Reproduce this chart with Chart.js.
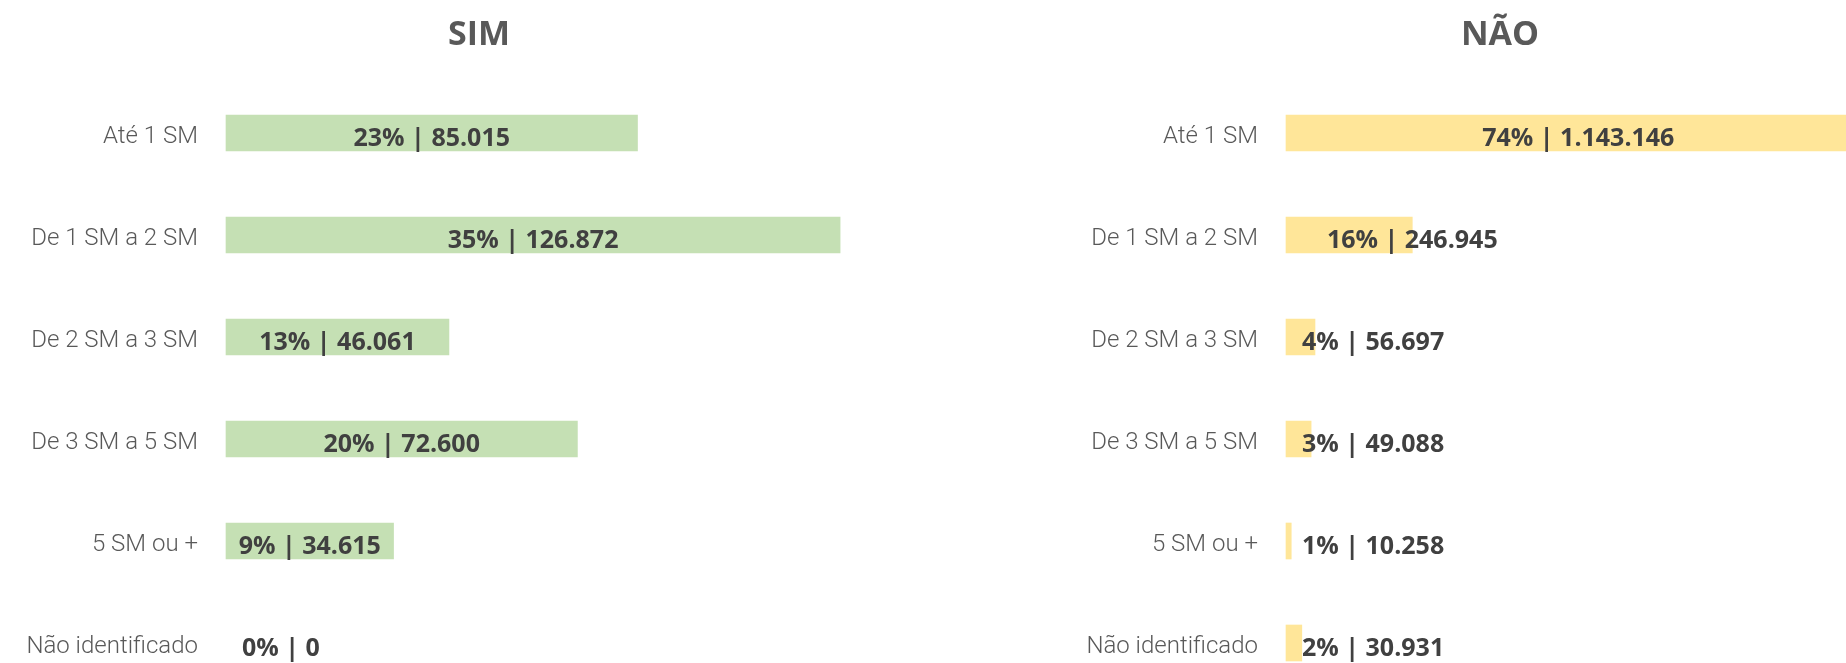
<!DOCTYPE html>
<html>
<head>
<meta charset="utf-8">
<script src="https://cdn.jsdelivr.net/npm/chart.js@4.4.1/dist/chart.umd.min.js"></script>
<style>
  html, body { margin: 0; padding: 0; background: #fff; overflow: hidden; }
  #wrap { position: relative; width: 1846px; height: 663px; }
  canvas { position: absolute; top: 0; }
  .titulo {
    position: absolute; top: 15px; width: 300px; margin-left: -150px;
    text-align: center; font: bold 34px/34px "Open Sans", sans-serif; color: #595959;
  }
</style>
</head>
<body>
<div id="wrap">
  <canvas id="simChart" width="923" height="663" style="left:0"></canvas>
  <canvas id="naoChart" width="923" height="663" style="left:923px"></canvas>
  <div class="titulo" style="left:479px">SIM</div>
  <div class="titulo" style="left:1500px">NÃO</div>
</div>
<script>
// faixas de renda
const categorias = ['Até 1 SM', 'De 1 SM a 2 SM', 'De 2 SM a 3 SM', 'De 3 SM a 5 SM', '5 SM ou +', 'Não identificado'];

// SIM
const simValores = [85015, 126872, 46061, 72600, 34615, 0];
const simPct = [23, 35, 13, 20, 9, 0];

// NÃO
const naoValores = [1143146, 246945, 56697, 49088, 10258, 30931];
const naoPct = [74, 16, 4, 3, 1, 2];

const fmt = n => String(n).replace(/\B(?=(\d{3})+(?!\d))/g, '.');

// rótulo "xx% | n" em cada barra
const rotulos = {
    id: 'rotulos',
    afterDatasetsDraw(chart) {
        const ctx = chart.ctx;
        const ds = chart.data.datasets[0];
        const meta = chart.getDatasetMeta(0);
        ctx.save();
        ctx.font = 'bold 25px "Open Sans", sans-serif';
        ctx.fillStyle = '#404040';
        ctx.textAlign = 'center';
        ctx.textBaseline = 'alphabetic';
        meta.data.forEach((bar, i) => {
            const txt = ds.pct[i] + '% | ' + fmt(ds.data[i]);
            const w = ctx.measureText(txt).width;
            const len = bar.x - bar.base;
            let cx;
            if (w <= len) {
                cx = (bar.x + bar.base) / 2;
            } else {
                // não cabe: centra no fim da barra, sem passar do início
                cx = Math.max(bar.x, bar.base + 16 + w / 2);
            }
            ctx.fillText(txt, cx, bar.y + 13);
        });
        ctx.restore();
    }
};

function makeChart(canvasId, valores, pct, cor, eixoLargura, max) {
    const ctx = document.getElementById(canvasId);
    return new Chart(ctx, {
        type: 'bar',
        data: {
            labels: categorias,
            datasets: [{
                data: valores,
                pct: pct,
                backgroundColor: valores.map(v => v > 0 ? cor : 'rgba(0,0,0,0)'),
                borderWidth: 0,
                barThickness: 36,
                clip: false
            }]
        },
        options: {
            indexAxis: 'y',
            responsive: false,
            animation: false,
            layout: { padding: { top: 133, bottom: 20, left: 0, right: 0 } },
            scales: {
                x: { display: false, min: 0, max: max },
                y: {
                    offset: false,
                    grid: { display: false, drawTicks: false },
                    border: { display: false },
                    ticks: {
                        color: '#595959',
                        padding: 28,
                        labelOffset: 4,
                        font: { family: 'Roboto, "DejaVu Sans Condensed", sans-serif', size: 24, weight: 300 }
                    },
                    afterFit(scale) {
                        scale.width = eixoLargura;
                        scale.paddingTop = 0;
                        scale.paddingBottom = 0;
                    }
                }
            },
            plugins: {
                legend: { display: false },
                tooltip: { enabled: false }
            }
        },
        plugins: [rotulos]
    });
}

makeChart('simChart', simValores, simPct, '#c5e0b4', 226, 144000);
makeChart('naoChart', naoValores, naoPct, '#ffe699', 363, 1095000);
</script>
</body>
</html>
